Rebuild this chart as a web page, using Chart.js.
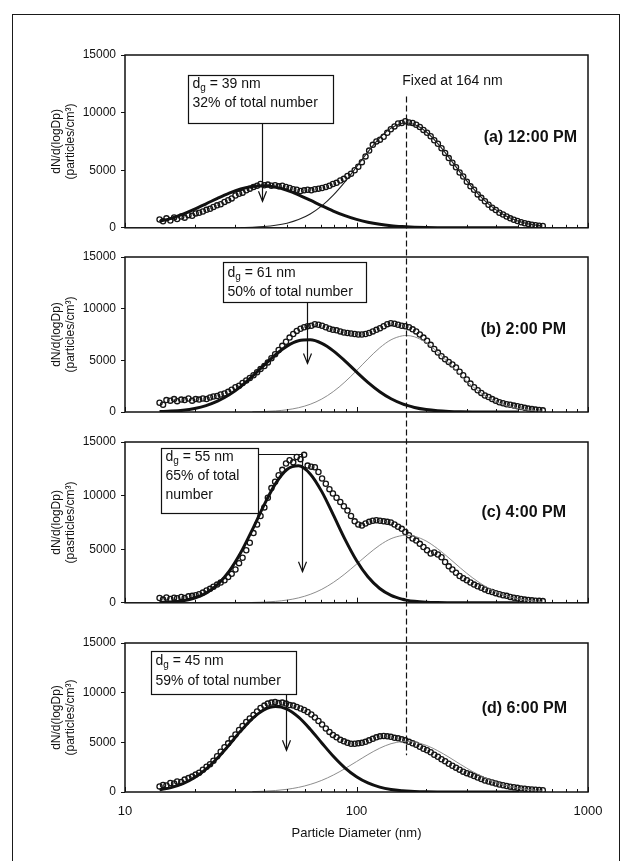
<!DOCTYPE html>
<html>
<head>
<meta charset="utf-8">
<script src="https://cdn.jsdelivr.net/npm/chart.js@4.4.1/dist/chart.umd.min.js"></script>
<style>
  html, body { margin: 0; padding: 0; background: #fff; }
  #page { position: relative; width: 628px; height: 861px; overflow: hidden; background: #fff; }
  #frame { position: absolute; left: 12px; top: 14px; width: 608px; height: 900px; border: 1.5px solid #1a1a1a; box-sizing: border-box; }
  #page canvas { position: absolute; left: 0; }
  #overlay { pointer-events: none; }
</style>
</head>
<body>
<div id="page">
  <div id="frame"></div>
  <canvas id="pa" width="628" height="200" style="top:40px"></canvas>
  <canvas id="pb" width="628" height="183" style="top:242px"></canvas>
  <canvas id="pc" width="628" height="188" style="top:427px"></canvas>
  <canvas id="pd" width="628" height="233" style="top:628px"></canvas>
  <canvas id="overlay" width="628" height="861" style="top:0"></canvas>
</div>
<script>
// SMPS channel midpoints (nm)
const diameters = [
  14.1, 14.6, 15.1, 15.7, 16.3, 16.8, 17.5, 18.1, 18.8, 19.5, 20.2, 20.9,
  21.7, 22.5, 23.3, 24.1, 25.0, 25.9, 26.9, 27.9, 28.9, 30.0,
  31.1, 32.2, 33.4, 34.6, 35.9, 37.2, 38.5, 40.0,
  41.4, 42.9, 44.5, 46.1, 47.8, 49.6,
  51.4, 53.3, 55.2, 57.3, 59.4,
  61.5, 63.8, 66.1, 68.5, 71.0,
  73.7, 76.4, 79.1, 82.0,
  85.1, 88.2, 91.4, 94.7, 98.2,
  101.8, 105.5, 109.4, 113.4, 117.6,
  121.9, 126.3, 131.0, 135.8, 140.7,
  145.9, 151.2, 156.8, 162.5, 168.5,
  174.7, 181.1, 187.7, 194.6, 201.7,
  209.1, 216.7, 224.7, 232.9, 241.4,
  250.3, 259.5, 269.0, 278.8, 289.0,
  299.6, 310.6, 322.0, 333.8, 346.0,
  358.7, 371.8, 385.4, 399.5, 414.2,
  429.4, 445.1, 461.4, 478.3, 495.8,
  514.0, 532.8, 552.3, 572.5, 593.5, 615.3, 637.8
];

// measured dN/dlogDp, one value per channel
const dnA = [
  720, 560, 820, 640, 900, 760, 980, 880, 1100, 1050, 1250, 1300,
  1420, 1560, 1650, 1800, 1950, 2050, 2250, 2400, 2550, 2800,
  2950, 3050, 3250, 3400, 3550, 3650, 3800, 3700,
  3750, 3650, 3700, 3600, 3650, 3550,
  3450, 3350, 3300, 3200, 3250,
  3300, 3250, 3350, 3400, 3450,
  3550, 3650, 3800, 3900,
  4100, 4250, 4500, 4700, 5000,
  5300, 5700, 6200, 6700, 7200,
  7500, 7650, 7900, 8250, 8550,
  8800, 9050, 9100, 9250, 9150,
  9100, 8950, 8750, 8500, 8250,
  7950, 7600, 7300, 6900, 6500,
  6050, 5650, 5250, 4800, 4450,
  4000, 3600, 3300, 2900, 2600,
  2300, 2000, 1750, 1550, 1300,
  1150, 980, 820, 700, 590,
  480, 400, 320, 270, 220, 180, 150
];
const dnB = [
  900, 700, 1150, 1100, 1250, 1050, 1200, 1150, 1300, 1100, 1250, 1200,
  1300, 1250, 1400, 1500, 1550, 1700, 1800, 1950, 2150, 2400,
  2550, 2800, 3050, 3300, 3550, 3850, 4150, 4450,
  4800, 5200, 5600, 6000, 6400, 6800,
  7200, 7550, 7850, 8050, 8200,
  8300, 8350, 8500, 8450, 8350,
  8200, 8050, 7950, 7900,
  7800, 7700, 7650, 7600, 7550,
  7500, 7500, 7550, 7650, 7800,
  7950, 8100, 8300, 8500, 8600,
  8550, 8450, 8350, 8300, 8200,
  8000, 7800, 7500, 7200, 6900,
  6500, 6100, 5750, 5400, 5100,
  4850, 4600, 4300, 3900, 3550,
  3150, 2750, 2400, 2100, 1850,
  1600, 1450, 1250, 1100, 950,
  850, 750, 700, 620, 560,
  480, 400, 330, 280, 230, 190, 160
];
const dnC = [
  450, 300, 500, 350, 480, 420, 550, 450, 600, 650, 700, 800,
  950, 1150, 1300, 1500, 1700, 1900, 2100, 2400, 2700, 3100,
  3700, 4200, 4900, 5600, 6500, 7300, 8100, 8900,
  9800, 10700, 11300, 11900, 12400, 13000,
  13300, 13100, 13600, 13400, 13800,
  12800, 12700, 12650, 12200, 11600,
  11100, 10600, 10200, 9800,
  9400, 9000, 8600, 8100, 7600,
  7300, 7200, 7400, 7550, 7650,
  7700, 7650, 7600, 7550, 7500,
  7300, 7100, 6900, 6600, 6300,
  6000, 5800, 5500, 5200, 4900,
  4600, 4700, 4500, 4250, 3800,
  3400, 3100, 2800, 2500, 2300,
  2100, 1900, 1700, 1550, 1400,
  1250, 1100, 1000, 900, 800,
  700, 650, 550, 480, 420,
  360, 300, 260, 230, 200, 180, 160
];
const dnD = [
  550, 700, 650, 900, 850, 1050, 1000, 1250, 1400, 1550, 1750, 1950,
  2250, 2550, 2800, 3150, 3600, 4050, 4500, 4900, 5350, 5800,
  6250, 6650, 7050, 7400, 7750, 8100, 8450, 8700,
  8900, 9000, 9050, 8950, 9000, 8900,
  8750, 8700, 8550, 8400, 8250,
  8050, 7800, 7500, 7150, 6800,
  6400, 6050, 5750, 5500,
  5250, 5100, 4950, 4850, 4850,
  4900, 4950, 5050, 5200, 5350,
  5500, 5600, 5650, 5600, 5550,
  5450, 5400, 5300, 5200, 5050,
  4900, 4750, 4550, 4350, 4200,
  4000, 3750, 3550, 3300, 3100,
  2850, 2650, 2450, 2250, 2050,
  1900, 1750, 1600, 1450, 1300,
  1150, 1050, 950, 850, 760,
  680, 600, 540, 480, 420,
  360, 320, 280, 250, 220, 200, 180
];

// lognormal mode fits, sampled on a coarser diameter grid
const fitDiam = [
  14.1, 15.8, 17.8, 20.0, 22.4, 25.1, 28.2, 31.6, 35.5, 39.8, 44.7, 50.1,
  56.2, 63.1, 70.8, 79.4, 89.1, 100, 112, 126, 141, 158, 164, 178,
  200, 224, 251, 282, 316, 355, 398, 447, 501, 562, 631
];
const modeSmallA = [
  553, 824, 1188, 1619, 2083, 2562, 3011, 3366, 3592, 3647, 3529, 3257,
  2864, 2394, 1911, 1453, 1053, 727, 482, 299, 180, 103, 85, 55,
  28, 14, 7, 3, 1, 0, 0, 0, 0, null, null
];
const modeFixedA = [
  null, null, null, null, null, null, null, 22, 51, 107, 215, 402,
  716, 1205, 1904, 2837, 3988, 5285, 6585, 7797, 8651, 9073, 9100, 8965,
  8342, 7334, 6097, 4744, 3504, 2427, 1596, 978, 572, 314, 163
];
const modeSmallB = [
  39, 85, 179, 348, 619, 1042, 1659, 2460, 3452, 4507, 5542, 6374,
  6888, 6980, 6635, 5915, 4948, 3883, 2875, 1967, 1284, 784, 659, 438,
  233, 117, 56, 24, 10, 4, 0, 0, 0, null, null
];
const modeFixedB = [
  null, null, null, null, null, null, null, null, 21, 48, 106, 216,
  415, 748, 1257, 1976, 2905, 3998, 5129, 6212, 6988, 7375, 7400, 7277,
  6706, 5795, 4700, 3537, 2510, 1655, 1030, 591, 322, 163, 78
];
const modeSmallC = [
  29, 77, 195, 444, 902, 1695, 2949, 4664, 6829, 9083, 11119, 12440,
  12780, 12024, 10371, 8200, 5942, 3948, 2427, 1335, 691, 327, 251, 137,
  53, 19, 6, 0, 0, 0, 0, 0, 0, null, null
];
const modeFixedC = [
  null, null, null, null, null, null, null, null, 30, 65, 133, 254,
  459, 786, 1258, 1898, 2694, 3601, 4515, 5373, 5981, 6280, 6300, 6204,
  5761, 5045, 4171, 3221, 2359, 1616, 1049, 634, 365, 197, 100
];
const modeSmallD = [
  225, 445, 839, 1453, 2305, 3421, 4758, 6130, 7388, 8256, 8600, 8338,
  7528, 6317, 4939, 3597, 2437, 1538, 913, 492, 253, 121, 94, 52,
  21, 8, 3, 0, 0, 0, 0, 0, 0, null, null
];
const modeFixedD = [
  null, null, null, null, null, null, null, null, 39, 78, 151, 272,
  467, 763, 1173, 1706, 2349, 3062, 3763, 4410, 4863, 5085, 5100, 5029,
  4700, 4164, 3501, 2765, 2081, 1473, 994, 627, 379, 216, 116
];

const panelLabels = ['(a) 12:00 PM', '(b) 2:00 PM', '(c) 4:00 PM', '(d) 6:00 PM'];
const modeDg = [39, 61, 55, 45];
const modeShare = [['32% of total number'], ['50% of total number'], ['65% of total', 'number'], ['59% of total number']];
const arrowAt = [39, 61, 58, 49.5];
const arrowTip = [2300, 4700, 2900, 4200];
const yTitles = [
  ['dN/d(logDp)', '(particles/cm\u00b3)'],
  ['dN/d(logDp)', '(particles/cm\u00b3)'],
  ['dN/d(logDp)', '(pasrticles/cm\u00b3)'],
  ['dN/d(logDp)', '(particles/cm\u00b3)']
];
const xTickLabels = [10, 100, 1000];
const fixedDiameter = 164;
const fixedNote = 'Fixed at 164 nm';
const xTitle = 'Particle Diameter (nm)';

const measured = [dnA, dnB, dnC, dnD];
const smallModes = [modeSmallA, modeSmallB, modeSmallC, modeSmallD];
const fixedModes = [modeFixedA, modeFixedB, modeFixedC, modeFixedD];

// layout of each panel (pixels)
const panelIds = ['pa', 'pb', 'pc', 'pd'];
const pads = [{ top: 15, bottom: 11 }, { top: 15, bottom: 13 }, { top: 15, bottom: 12 }, { top: 15, bottom: 0 }];
const boxes = [
  { x: 63, y: 20, w: 145, h: 48, lines: [9, 28] },
  { x: 98, y: 5, w: 143, h: 40, lines: [11, 30] },
  { x: 36, y: 6, w: 97, h: 65, lines: [9, 28, 47], elbow: 6 },
  { x: 26, y: 8, w: 145, h: 43, lines: [10, 30] }
];
const labelPlace = [{ inset: 11, at: 0.48 }, { inset: 22, at: 0.47 }, { inset: 22, at: 0.44 }, { inset: 21, at: 0.44 }];
const fixedLineColor = ['#222', '#808080', '#808080', '#808080'];
const fixedLineWidth = [1.1, 0.9, 0.9, 0.9];

const FONT = '"Liberation Sans", Arial, Helvetica, sans-serif';
Chart.defaults.font.family = FONT;
Chart.defaults.color = '#111';

const panelDecor = {
  id: 'panelDecor',
  afterDraw(chart, args, o) {
    const { ctx, chartArea: a, scales: { x, y } } = chart;
    ctx.save();
    ctx.strokeStyle = '#111';
    ctx.fillStyle = '#111';

    // small inward ticks along the diameter axis
    ctx.lineWidth = 1;
    ctx.beginPath();
    for (let dec = 10; dec < 1000; dec *= 10) {
      for (let k = 1; k <= 10; k++) {
        const px = Math.round(x.getPixelForValue(dec * k)) + 0.5;
        const len = (k === 1 || k === 10) ? 5 : 3;
        ctx.moveTo(px, a.bottom);
        ctx.lineTo(px, a.bottom - len);
      }
    }
    ctx.stroke();

    ctx.lineWidth = 1.5;
    ctx.strokeRect(a.left, a.top, a.right - a.left, a.bottom - a.top);

    // time label
    ctx.font = 'bold 16px ' + FONT;
    ctx.textAlign = 'right';
    ctx.textBaseline = 'middle';
    ctx.fillText(o.label, a.right - o.place.inset, a.top + o.place.at * (a.bottom - a.top));

    // mode annotation box
    const b = o.box;
    const bx = Math.round(a.left + b.x) + 0.5, by = Math.round(a.top + b.y) + 0.5;
    ctx.fillStyle = '#fff';
    ctx.fillRect(bx, by, b.w, b.h);
    ctx.lineWidth = 1.2;
    ctx.strokeRect(bx, by, b.w, b.h);
    ctx.fillStyle = '#111';
    ctx.textAlign = 'left';
    let tx = bx + 4;
    const ty = by + b.lines[0];
    ctx.font = '14px ' + FONT;
    ctx.fillText('d', tx, ty);
    tx += ctx.measureText('d').width;
    ctx.font = '10px ' + FONT;
    ctx.fillText('g', tx, ty + 4);
    tx += ctx.measureText('g').width;
    ctx.font = '14px ' + FONT;
    ctx.fillText(' = ' + o.dg + ' nm', tx, ty);
    o.share.forEach((s, i) => ctx.fillText(s, bx + 4, by + b.lines[i + 1]));

    // arrow to the small mode
    const ax = Math.round(x.getPixelForValue(o.arrowAt)) + 0.5;
    const tip = y.getPixelForValue(o.arrowTip);
    ctx.lineWidth = 1.2;
    ctx.beginPath();
    if (b.elbow !== undefined) {
      ctx.moveTo(bx + b.w, by + b.elbow);
      ctx.lineTo(ax, by + b.elbow);
    } else {
      ctx.moveTo(ax, by + b.h);
    }
    ctx.lineTo(ax, tip);
    ctx.stroke();
    ctx.beginPath();
    ctx.moveTo(ax - 4, tip - 10);
    ctx.lineTo(ax, tip);
    ctx.lineTo(ax + 4, tip - 10);
    ctx.stroke();

    if (o.note) {
      ctx.font = '14px ' + FONT;
      ctx.textAlign = 'left';
      ctx.fillText(o.note, x.getPixelForValue(fixedDiameter) - 4, a.top + 26);
    }
    ctx.restore();
  }
};

function isDecade(v) {
  const l = Math.log10(v);
  return Math.abs(l - Math.round(l)) < 1e-6;
}

function buildPanel(i) {
  const last = i === panelIds.length - 1;
  const toPts = (xs, ys) => xs.map((d, k) => ({ x: d, y: ys[k] }));
  return new Chart(document.getElementById(panelIds[i]), {
    type: 'scatter',
    data: {
      datasets: [
        {
          data: toPts(diameters, measured[i]),
          pointRadius: 2.6,
          pointBorderWidth: 1.3,
          pointBorderColor: '#151515',
          pointBackgroundColor: 'rgba(255,255,255,0)',
          order: 2
        },
        {
          data: toPts(fitDiam, fixedModes[i]),
          showLine: true,
          pointRadius: 0,
          borderColor: fixedLineColor[i],
          borderWidth: fixedLineWidth[i],
          cubicInterpolationMode: 'monotone',
          order: 1
        },
        {
          data: toPts(fitDiam, smallModes[i]),
          showLine: true,
          pointRadius: 0,
          borderColor: '#111',
          borderWidth: 3,
          cubicInterpolationMode: 'monotone',
          order: 0
        }
      ]
    },
    options: {
      responsive: false,
      animation: false,
      events: [],
      layout: { padding: { left: 0, right: 40, top: pads[i].top, bottom: pads[i].bottom } },
      plugins: {
        legend: { display: false },
        tooltip: { enabled: false },
        panelDecor: {
          label: panelLabels[i],
          place: labelPlace[i],
          box: boxes[i],
          dg: modeDg[i],
          share: modeShare[i],
          arrowAt: arrowAt[i],
          arrowTip: arrowTip[i],
          note: i === 0 ? fixedNote : null
        }
      },
      scales: {
        x: {
          type: 'logarithmic',
          min: 10,
          max: 1000,
          grid: { display: false, drawTicks: false },
          border: { display: false },
          ticks: {
            display: last,
            autoSkip: false,
            maxRotation: 0,
            padding: 12,
            font: { size: 13 },
            callback: (v) => (isDecade(v) && xTickLabels.includes(Math.round(v))) ? String(Math.round(v)) : ''
          },
          title: { display: last, text: xTitle, font: { size: 13 }, padding: { top: 0, bottom: 20 } },
          afterFit: (s) => { s.height = last ? 69 : 0; }
        },
        y: {
          min: 0,
          max: 15000,
          grid: { display: true, drawOnChartArea: false, drawTicks: true, tickLength: 4, color: '#111' },
          border: { display: false },
          ticks: { stepSize: 5000, padding: 5, font: { size: 12 }, callback: (v) => String(v) },
          title: { display: true, text: yTitles[i], font: { size: 12 }, padding: { top: 49, bottom: 0 } },
          afterFit: (s) => { s.width = 125; }
        }
      }
    },
    plugins: [panelDecor]
  });
}

const charts = panelIds.map((id, i) => buildPanel(i));

// dashed guide at the fixed mode diameter, running through all panels
const dashFrom = 11400;   // in panel (a) units
const dashTo = 3700;      // in panel (d) units
const ov = document.getElementById('overlay').getContext('2d');
const first = charts[0], lastChart = charts[charts.length - 1];
const dx = Math.round(first.scales.x.getPixelForValue(fixedDiameter)) + 0.5;
const y0 = first.canvas.offsetTop + first.scales.y.getPixelForValue(dashFrom);
const y1 = lastChart.canvas.offsetTop + lastChart.scales.y.getPixelForValue(dashTo);
ov.strokeStyle = '#111';
ov.lineWidth = 1.2;
ov.setLineDash([6, 3]);
ov.beginPath();
ov.moveTo(dx, y0);
ov.lineTo(dx, y1);
ov.stroke();
</script>
</body>
</html>
